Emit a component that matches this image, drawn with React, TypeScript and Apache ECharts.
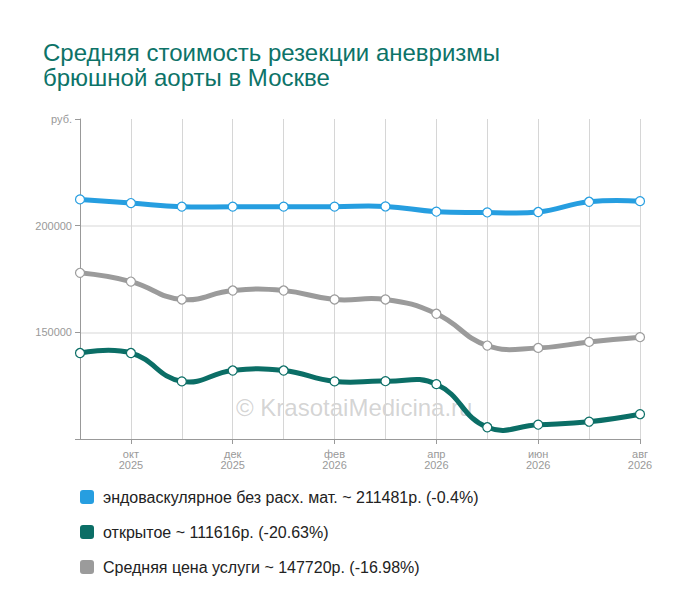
import React, { useRef, useEffect } from 'react'
import * as echarts from 'echarts'

const months = ['сен\n2025', 'окт\n2025', 'ноя\n2025', 'дек\n2025', 'янв\n2026', 'фев\n2026', 'мар\n2026', 'апр\n2026', 'май\n2026', 'июн\n2026', 'июл\n2026', 'авг\n2026']

const endovascular = [212300, 210600, 208900, 208900, 208900, 208900, 209000, 206550, 206200, 206400, 211200, 211481]
const openSurgery = [140300, 140300, 127000, 132100, 132100, 127000, 127100, 125700, 105500, 106700, 108100, 111616]
const average = [177900, 173800, 165400, 169600, 169600, 165400, 165400, 158700, 143800, 142700, 145500, 147720]

const seriesNames = [
  'эндоваскулярное без расх. мат. ~ 211481р. (-0.4%)',
  'открытое ~ 111616р. (-20.63%)',
  'Средняя цена услуги ~ 147720р. (-16.98%)'
]
const seriesColors = ['#269ee0', '#0b6e66', '#9b9b9b']

const FONT = '"Liberation Sans", Arial, sans-serif'
const legendIcon = 'path://M3,0 H11 A3,3 0 0 1 14,3 V11 A3,3 0 0 1 11,14 H3 A3,3 0 0 1 0,11 V3 A3,3 0 0 1 3,0 Z'

// smooth curve drawn through the points (overshoot allowed, like the original)
const makeCurve = (name: string, values: number[], color: string) => ({
  name,
  type: 'custom',
  data: values.map((v, i) => [i, v]),
  encode: { x: 0, y: 1 },
  z: 2,
  silent: true,
  renderItem: (params: any, api: any) => {
    if (params.dataIndex !== 0) return null
    const points = values.map((v, i) => api.coord([i, v]))
    return {
      type: 'polyline',
      shape: { points, smooth: 0.45, smoothConstraint: false },
      style: { stroke: color, lineWidth: 5, fill: null, lineJoin: 'round', lineCap: 'round' }
    }
  }
})

const makeMarkers = (name: string, values: number[], color: string) => ({
  name,
  type: 'line',
  data: values,
  z: 3,
  symbol: 'circle',
  symbolSize: 9,
  showAllSymbol: true,
  itemStyle: { color: '#fff', borderColor: color, borderWidth: 1.2 },
  lineStyle: { width: 0, opacity: 0 },
  emphasis: { disabled: true }
})

const App: React.FC = () => {
  const chartRef = useRef<HTMLDivElement>(null)

  useEffect(() => {
    if (!chartRef.current) return
    const chart = echarts.init(chartRef.current, null, { renderer: 'svg' })

    const option = {
      animation: false,
      textStyle: { fontFamily: FONT },
      title: {
        text: 'Средняя стоимость резекции аневризмы\nбрюшной аорты в Москве',
        left: 43,
        top: 40,
        padding: 0,
        textStyle: {
          color: '#0d7368',
          fontSize: 24,
          fontWeight: 'normal',
          lineHeight: 25,
          fontFamily: FONT
        }
      },
      legend: {
        orient: 'vertical',
        left: 80,
        top: 489,
        padding: 0,
        itemWidth: 14,
        itemHeight: 14,
        itemGap: 19,
        icon: legendIcon,
        textStyle: { color: '#222', fontSize: 16, fontFamily: FONT, padding: [0, 0, 0, 4] },
        data: seriesNames.map((n, i) => ({ name: n, itemStyle: { color: seriesColors[i], borderWidth: 0 } }))
      },
      grid: { left: 80, right: 60, top: 119, bottom: 177 },
      xAxis: {
        type: 'category',
        data: months,
        boundaryGap: false,
        axisLine: { lineStyle: { color: '#999' } },
        axisTick: { show: true, length: 5, interval: (i: number) => i % 2 === 1, lineStyle: { color: '#999' } },
        axisLabel: {
          interval: (i: number) => i % 2 === 1,
          color: '#999',
          fontSize: 11,
          lineHeight: 11,
          margin: 9,
          fontFamily: FONT
        },
        splitLine: { show: true, interval: 0, lineStyle: { color: '#d6d6d6', width: 1 } }
      },
      yAxis: {
        type: 'value',
        min: 100000,
        max: 250000,
        interval: 50000,
        axisLine: { show: true, lineStyle: { color: '#999' } },
        axisTick: { show: true, length: 5, lineStyle: { color: '#999' } },
        axisLabel: {
          color: '#999',
          fontSize: 11,
          margin: 8,
          fontFamily: FONT,
          formatter: (v: number) => (v === 100000 ? '' : v === 250000 ? 'руб.' : String(v))
        },
        splitLine: {
          show: true,
          lineStyle: { color: ['transparent', '#e4e4e4', '#e4e4e4', 'transparent'], width: 1.5 }
        }
      },
      graphic: [
        {
          type: 'text',
          left: 236,
          top: 395,
          z: 0,
          style: {
            text: '© KrasotaiMedicina.ru',
            fill: 'rgba(160,160,160,0.45)',
            fontSize: 24,
            fontFamily: FONT
          }
        }
      ],
      series: [
        makeCurve(seriesNames[0], endovascular, seriesColors[0]),
        makeCurve(seriesNames[1], openSurgery, seriesColors[1]),
        makeCurve(seriesNames[2], average, seriesColors[2]),
        makeMarkers(seriesNames[0], endovascular, seriesColors[0]),
        makeMarkers(seriesNames[1], openSurgery, seriesColors[1]),
        makeMarkers(seriesNames[2], average, seriesColors[2])
      ]
    }

    chart.setOption(option)
    return () => {
      chart.dispose()
    }
  }, [])

  return (
    <div
      ref={chartRef}
      style={{ position: 'fixed', left: 0, top: 0, width: 700, height: 616, background: '#fff' }}
    />
  )
}

export default App
